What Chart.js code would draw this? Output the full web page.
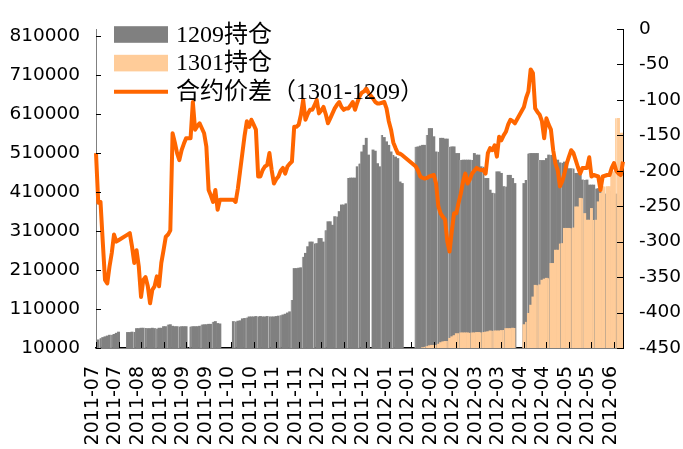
<!DOCTYPE html>
<html lang="zh">
<head>
<meta charset="UTF-8">
<title>1209/1301持仓与合约价差</title>
<script src="https://cdn.jsdelivr.net/npm/chart.js"></script>
<style>
  body { margin: 0; background: #fff; }
  #wrap { width: 683px; height: 449px; }
</style>
</head>
<body>
<div id="wrap"><canvas id="chart" width="683" height="449"></canvas></div>
<script>
// one slot per weekday, a date label every 10 slots
const tickLabels = [
  '2011-07', '2011-07', '2011-08', '2011-08', '2011-09', '2011-09', '2011-10', '2011-10',
  '2011-11', '2011-11', '2011-12', '2011-12', '2011-12', '2012-01', '2012-01', '2012-02',
  '2012-02', '2012-03', '2012-03', '2012-04', '2012-04', '2012-05', '2012-05', '2012-06'
];
const labelEvery = 10;
const slotCount = 235;

// 1209 open interest (null = holiday / no data)
const hold1209 = [
  28000, 31000, 35000, 37000, 39000, 41000, 43000, 44000, 45000, 48000,
  51000, null, null, null, 50000, 50000, 51000, 51000, 60000, 60000,
  61000, 61000, 61000, 60000, 60000, 61000, 60000, 60000, 61000, 61000,
  65000, 65000, 70000, 70000, 66000, 65000, 65000, 65000, 65000, 65000,
  65000, null, 65000, 65000, 65000, 65000, 66000, 70000, 70000, 70000,
  71000, 71000, 77000, 78000, 73000, 72000, null, null, null, null,
  null, 78000, 78000, 79000, 80000, 85000, 86000, 88000, 90000, 90000,
  90000, 91000, 91000, 91000, 90000, 90000, 91000, 91000, 90000, 90000,
  91000, 92000, 94000, 95000, 97000, 100000, 103000, 133000, 214000, 214000,
  215000, 216000, 244000, 253000, 270000, 282000, 282000, 278000, 278000, 291000,
  291000, 282000, 312000, 334000, 334000, 325000, 347000, 347000, 360000, 377000,
  377000, 380000, 446000, 446000, 446000, 446000, 475000, 483000, 513000, 530000,
  548000, 505000, null, 518000, 515000, 483000, 475000, 556000, 550000, 539000,
  530000, 513000, 505000, 500000, 496000, 436000, 432000, null, null, null,
  null, null, 526000, 526000, 528000, 530000, 530000, 556000, 573000, 573000,
  552000, 513000, 513000, 548000, 548000, 546000, 546000, 526000, 526000, 526000,
  509000, 509000, 492000, 492000, 492000, 492000, 492000, 492000, 509000, 505000,
  505000, 475000, 475000, 445000, 445000, 415000, 407000, 407000, 462000, 462000,
  458000, 424000, 424000, 453000, 453000, 445000, 432000, null, null, null,
  432000, 440000, 509000, 509000, 509000, 509000, 509000, 492000, 491000, 491000,
  496000, 505000, 505000, 505000, 492000, 492000, 485000, 485000, 487000, 487000,
  470000, 470000, 470000, 458000, 458000, 458000, 441000, 441000, 441000, 428000,
  428000, 428000, 419000, 419000, 411000, 411000, 405000, 405000, 411000, 411000,
  405000, 405000, 400000, 400000, 400000
];

// 1301 open interest, starts at slot 145
const hold1301Start = 145;
const hold1301 = [
  11000, 13000, 14000, 16000, 17000,
  17000, 18000, 20000, 24000, 26000, 27000, 28000, 35000, 39000, 42000,
  47000, 48000, 49000, 49000, 49000, 49000, 49000, 49000, 49000, 50000,
  50000, 50000, 50000, 51000, 52000, 54000, 54000, 54000, 54000, 54000,
  55000, 56000, 60000, 60000, 60000, 61000, 61000, null, null, null,
  70000, 77000, 99000, 120000, 141000, 171000, 171000, 172000, 184000, 187000,
  189000, 189000, 227000, 227000, 261000, 261000, 278000, 278000, 317000, 317000,
  317000, 317000, 318000, 372000, 372000, 394000, 394000, 355000, 338000, 338000,
  368000, 338000, 338000, 385000, 407000, 424000, 424000, 424000, 424000, 462000,
  462000, 599000, 599000, 561000, 561000
];

// spread 1301-1209 (right axis)
const spread = [
  -175, -245, -244, -300, -354, -359, -335, -316, -290, -300,
  -298, null, null, null, -290, -288, -307, -330, -312, -335,
  -378, -354, -350, -363, -387, -368, -363, -349, -363, -330,
  -312, -293, -290, -284, -147, -160, -175, -185, -171, -162,
  -154, null, -154, -103, -142, -137, -133, -140, -147, -166,
  -227, -235, -244, -227, -255, -241, null, null, null, null,
  null, -241, -244, -225, -200, -175, -150, -130, -138, -128,
  -135, -142, -208, -208, -199, -194, -192, -175, -199, -218,
  -212, -208, -200, -196, -204, -194, -190, -187, -138, -138,
  -135, -121, -100, -128, -120, -114, -114, -108, -100, -119,
  -115, -110, -120, -133, -126, -119, -112, -107, -103, -110,
  -114, -112, -112, -108, -103, -114, -104, -95, -90, -88,
  -84, -90, null, -98, -103, -105, -105, -104, -103, -112,
  -130, -142, -160, -168, -175, -176, -178, null, null, null,
  null, null, -194, -200, -208, -210, -211, -210, -208, -207,
  -206, -218, -250, -260, -265, -269, -300, -314, -285, -260,
  -260, -245, -232, -215, -204, -218, -212, -204, -200, -196,
  -198, -199, -199, -204, -175, -168, -171, -164, -180, -152,
  -157, -150, -145, -135, -128, -130, -133, null, null, null,
  -110, -97, -88, -57, -62, -112, -117, -121, -130, -154,
  -126, -135, -142, -171, -190, -199, -222, -215, -204, -190,
  -180, -171, -175, -185, -195, -204, -196, -196, -196, -181,
  -208, -206, -207, -208, -227, -208, -207, -206, -206, -196,
  -189, -200, -204, -206, -187
];

const leftTicks = [10000, 110000, 210000, 310000, 410000, 510000, 610000, 710000, 810000];

const labels = Array.from({ length: slotCount }, (_, i) => i % labelEvery === 0 ? tickLabels[i / labelEvery] : '');
const hold1301Full = new Array(hold1301Start).fill(null).concat(hold1301);

const legendItems = [
  { text: '1209持仓', kind: 'box', color: '#808080' },
  { text: '1301持仓', kind: 'box', color: '#FFCC99' },
  { text: '合约价差（1301-1209）', kind: 'line', color: '#FF6600' }
];

// legend drawn inside the plot, top left
const boxLegend = {
  id: 'boxLegend',
  afterDatasetsDraw(chart) {
    const ctx = chart.ctx;
    ctx.save();
    ctx.font = '24px "Liberation Serif", "Noto Sans CJK SC", serif';
    ctx.textBaseline = 'middle';
    legendItems.forEach((item, k) => {
      const cy = 34.5 + k * 28.6;
      if (item.kind === 'box') {
        ctx.fillStyle = item.color;
        ctx.fillRect(114, cy - 8.3, 54, 16.6);
      } else {
        ctx.strokeStyle = item.color;
        ctx.lineWidth = 4;
        ctx.beginPath();
        ctx.moveTo(114, cy);
        ctx.lineTo(168, cy);
        ctx.stroke();
      }
      ctx.fillStyle = '#000';
      ctx.fillText(item.text, 176, cy + 1);
    });
    ctx.restore();
  }
};

// short tick marks pointing into the plot
const innerTicks = {
  id: 'innerTicks',
  afterDatasetsDraw(chart) {
    const { ctx, chartArea: a, scales } = chart;
    ctx.save();
    ctx.strokeStyle = '#000';
    ctx.lineWidth = 1;
    ctx.beginPath();
    scales.y.ticks.forEach(t => {
      const py = Math.round(scales.y.getPixelForValue(t.value)) + 0.5;
      ctx.moveTo(a.left, py);
      ctx.lineTo(a.left + 5, py);
    });
    scales.y1.ticks.forEach(t => {
      const py = Math.round(scales.y1.getPixelForValue(t.value)) + 0.5;
      ctx.moveTo(a.right, py);
      ctx.lineTo(a.right - 6, py);
    });
    scales.x.ticks.forEach(t => {
      const px = Math.round(scales.x.getPixelForValue(t.value)) + 0.5;
      ctx.moveTo(px, a.bottom);
      ctx.lineTo(px, a.bottom - 6);
    });
    ctx.stroke();
    ctx.restore();
  }
};

const tickFont = { family: 'DejaVu Sans', size: 18.5 };

new Chart(document.getElementById('chart'), {
  type: 'bar',
  data: {
    labels: labels,
    datasets: [
      {
        label: '1209持仓',
        data: hold1209,
        backgroundColor: '#808080',
        borderColor: '#b4b4b4',
        borderWidth: c => c.dataIndex % 5 === 2 ? { left: 1 } : 0,
        grouped: false,
        barPercentage: 1,
        categoryPercentage: 1,
        clip: 0,
        yAxisID: 'y',
        order: 2
      },
      {
        label: '1301持仓',
        data: hold1301Full,
        backgroundColor: '#FFCC99',
        borderColor: 'rgba(0,0,0,0)',
        borderWidth: c => c.dataIndex % 5 === 1 ? { right: 1 } : 0,
        grouped: false,
        barPercentage: 1,
        categoryPercentage: 1,
        clip: 0,
        yAxisID: 'y',
        order: 1
      },
      {
        type: 'line',
        label: '合约价差（1301-1209）',
        data: spread,
        borderColor: '#FF6600',
        borderWidth: 4,
        pointRadius: 0,
        tension: 0,
        spanGaps: true,
        borderJoinStyle: 'round',
        yAxisID: 'y1',
        order: 0
      }
    ]
  },
  options: {
    responsive: false,
    animation: false,
    layout: { padding: { top: 29, left: 0, right: 0, bottom: 0 } },
    plugins: {
      legend: { display: false },
      tooltip: { enabled: false }
    },
    scales: {
      x: {
        type: 'category',
        offset: false,
        grid: { display: false, drawTicks: false, offset: false },
        border: { display: true, color: '#000', width: 1.5 },
        afterBuildTicks: s => { s.ticks = s.ticks.filter(t => t.value % labelEvery === 0); },
        afterFit: s => { s.height = 101; },
        ticks: {
          autoSkip: false,
          minRotation: 90,
          maxRotation: 90,
          padding: 18,
          labelOffset: -3,
          color: '#000',
          font: { family: 'DejaVu Sans', size: 19 }
        }
      },
      y: {
        position: 'left',
        min: 10000,
        max: 828000,
        grid: { display: false, drawTicks: false },
        border: { display: true, color: '#808080', width: 1 },
        afterBuildTicks: s => { s.ticks = leftTicks.map(v => ({ value: v })); },
        afterFit: s => { s.width = 96; },
        ticks: { padding: 16, color: '#000', font: tickFont, callback: v => String(v) }
      },
      y1: {
        position: 'right',
        min: -450,
        max: 0,
        grid: { display: false, drawTicks: false },
        border: { display: true, color: '#000', width: 1 },
        afterFit: s => { s.width = 60; },
        ticks: { stepSize: 50, padding: 16, color: '#000', font: tickFont, callback: v => String(v) }
      }
    }
  },
  plugins: [innerTicks, boxLegend]
});
</script>
</body>
</html>
